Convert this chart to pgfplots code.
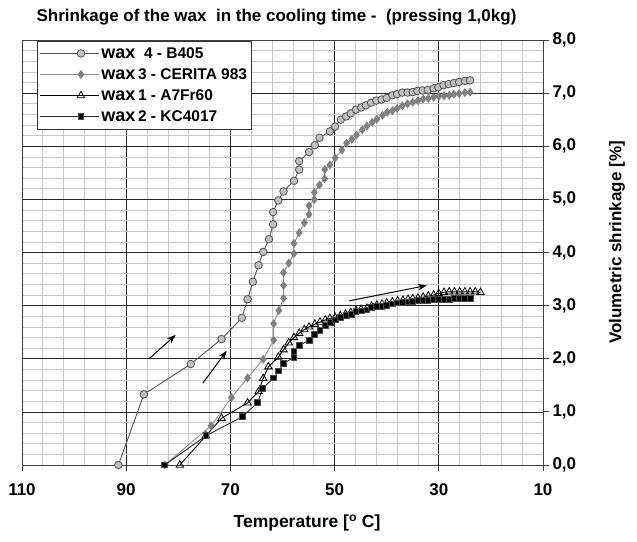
\documentclass[border=0pt]{standalone}
\usepackage{fontspec}
\setmainfont{Liberation Sans}
\usepackage{pgfplots}
\pgfplotsset{compat=1.18}
\usetikzlibrary{arrows.meta}
\definecolor{cfill}{HTML}{C0C0C0}
\definecolor{cedge}{HTML}{505050}
\definecolor{dfill}{HTML}{808080}
\definecolor{dline}{HTML}{8C8C8C}
\begin{document}
\begin{tikzpicture}
\begin{axis}[
  at={(0,0)}, anchor=south west,
  scale only axis, width=521pt, height=425pt,
  xmin=10, xmax=110, ymin=0, ymax=8,
  x dir=reverse,
  xtick={10,30,50,70,90,110},
  ytick={0,1,2,3,4,5,6,7,8},
  minor x tick num=4, minor y tick num=4,
  grid=both,
  major grid style={black!85, line width=0.6pt},
  minor grid style={black!22, line width=0.7pt},
  axis line style={black!75, line width=0.8pt},
  tick style={black!75, line width=0.8pt},
  tick align=outside,
  major tick length=6pt, minor tick length=0pt,
  xtick pos=left, ytick pos=right,
  yticklabel pos=right,
  /pgf/number format/assume math mode=true,
  tick label style={font=\fontsize{17}{17}\selectfont\bfseries},
  yticklabel style={/pgf/number format/.cd, fixed, fixed zerofill, precision=1, use comma},
  xticklabel style={yshift=-9pt},
  title={Shrinkage of the wax\ \ in the cooling time -\ \ (pressing 1,0kg)},
  title style={font=\fontsize{17}{18}\selectfont\bfseries, at={(0.5,1)}, anchor=center, yshift=17pt, xshift=-6pt},
  xlabel={Temperature [\textsuperscript{o} C]},
  xlabel style={font=\fontsize{17.5}{18}\selectfont\bfseries, at={(axis description cs:0.547,-0.1365)}, anchor=center},
  ylabel={Volumetric shrinkage [\%]},
  ylabel style={font=\fontsize{17}{18}\selectfont\bfseries, at={(axis description cs:1.142,0.5235)}, anchor=center},
  legend cell align=left,
  legend style={at={(0.029,0.998)}, anchor=north west, draw=black!80, line width=0.8pt,
    fill=white, font=\fontsize{15.5}{17}\selectfont\bfseries, row sep=4.8pt, inner xsep=2pt, inner ysep=4pt},
  legend image code/.code={%
    \path (0pt,0pt) -- (25pt,0pt);
    \draw[mark repeat=2,mark phase=2] plot coordinates {(25pt,0pt) (41pt,0pt) (57pt,0pt)};
    \path (57pt,0pt) -- (59pt,0pt);},
]
% wax 4 - B405
\addplot[color=cedge, line width=0.9pt, mark=*, mark size=3.8pt, mark options={fill=cfill, draw=cedge, line width=0.8pt}]
coordinates {
(91.5,0) (86.6,1.33) (77.6,1.90) (71.7,2.37) (67.8,2.77) (66.7,3.12) (65.7,3.45) (64.6,3.76)
(63.7,4.01) (62.6,4.25) (61.8,4.53) (61.8,4.76) (60.8,4.98) (59.8,5.15) (57.8,5.35) (56.8,5.56)
(56.8,5.72) (54.9,5.89) (53.8,6.02) (52.9,6.16) (50.9,6.28) (49.9,6.37) (48.8,6.50) (47.8,6.56)
(46.9,6.62) (45.9,6.69) (44.9,6.73) (44.0,6.77) (43.0,6.82) (42.0,6.86) (41.0,6.88) (40.0,6.91)
(38.9,6.96) (38.0,6.98) (37.0,7.01) (36.0,7.01) (35.0,7.02) (34.1,7.04) (33.1,7.05) (32.1,7.06)
(31.0,7.09) (30.1,7.11) (29.1,7.15) (28.1,7.17) (27.1,7.19) (26.1,7.21) (25.0,7.23) (24.0,7.24)
};
\addlegendentry{{\fontsize{18}{18}\selectfont wax}\ \ 4 - B405}
% wax 3 - CERITA 983
\addplot[color=dline, line width=0.9pt, mark=diamond*, mark size=3.8pt, mark options={fill=dfill, draw=dfill}]
coordinates {
(82.6,0) (73.7,0.74) (69.8,1.27) (66.7,1.64) (63.7,1.99) (61.7,2.35) (61.7,2.66) (60.7,2.91)
(59.8,3.14) (59.8,3.38) (59.8,3.62) (58.8,3.80) (57.8,3.98) (57.8,4.17) (56.8,4.37) (55.8,4.56)
(54.9,4.72) (54.9,4.88) (53.9,5.00) (53.9,5.13) (52.9,5.27) (51.9,5.39) (51.9,5.56) (50.9,5.65)
(49.9,5.78) (48.6,5.93) (47.7,6.06) (46.7,6.13) (45.8,6.21) (44.7,6.31) (43.8,6.38) (42.8,6.45)
(41.9,6.51) (40.8,6.58) (39.9,6.64) (38.9,6.67) (38.0,6.71) (37.0,6.76) (36.0,6.80) (35.0,6.83)
(34.0,6.86) (33.0,6.89) (32.0,6.90) (31.0,6.92) (30.0,6.94) (29.0,6.95) (28.0,6.96) (27.1,6.98)
(26.1,6.99) (25.0,7.01) (24.0,7.02)
};
\addlegendentry{{\fontsize{18}{18}\selectfont wax}\,3 - CERITA 983}
% wax 1 - A7Fr60
\addplot[color=black, line width=0.9pt, mark=triangle, mark size=4.3pt, mark options={fill=white, draw=black, line width=0.8pt}]
coordinates {
(79.7,0) (74.7,0.55) (71.7,0.88) (66.7,1.17) (64.6,1.38) (63.7,1.63) (62.7,1.85) (60.8,2.03)
(59.8,2.17) (58.8,2.30) (57.8,2.40) (56.8,2.48) (55.8,2.55) (54.9,2.60) (53.8,2.65) (52.8,2.69)
(51.8,2.73) (50.9,2.76) (49.9,2.78) (48.9,2.81) (47.9,2.84) (46.9,2.87) (45.9,2.91) (44.9,2.93)
(43.8,2.95) (42.9,2.99) (41.9,3.01) (40.9,3.03) (40.0,3.05) (38.9,3.07) (37.9,3.09) (36.9,3.10)
(35.9,3.12) (35.0,3.13) (34.0,3.14) (33.0,3.16) (32.0,3.18) (31.0,3.20) (30.0,3.23) (29.0,3.25)
(28.0,3.26) (27.0,3.26) (26.0,3.26) (25.0,3.26) (24.0,3.26) (23.0,3.26) (22.0,3.25)
};
\addlegendentry{{\fontsize{18}{18}\selectfont wax}\,1 - A7Fr60}
% wax 2 - KC4017
\addplot[color=black!85, line width=0.9pt, mark=square*, mark size=2.9pt, mark options={fill=black, draw=black!70}]
coordinates {
(82.6,0) (74.7,0.55) (67.7,0.91) (64.8,1.17) (63.8,1.44) (61.7,1.64) (60.7,1.77) (59.8,1.91)
(57.8,2.03) (57.8,2.13) (56.8,2.25) (54.9,2.35) (53.8,2.45) (52.8,2.54) (51.8,2.62) (50.8,2.69)
(49.8,2.73) (48.8,2.77) (47.8,2.81) (46.8,2.84) (45.9,2.89) (44.8,2.90) (43.8,2.92) (42.9,2.96)
(41.9,2.98) (40.9,2.99) (40.0,3.01) (38.9,3.03) (37.9,3.05) (36.9,3.06) (35.9,3.07) (35.0,3.08)
(34.0,3.09) (33.0,3.09) (32.1,3.10) (31.0,3.11) (30.0,3.11) (29.0,3.12) (28.0,3.12) (27.1,3.13)
(26.1,3.13) (25.0,3.13) (24.0,3.13)
};
\addlegendentry{{\fontsize{18}{18}\selectfont wax}\,2 - KC4017}
% arrows
\draw[-{Stealth[length=9pt,width=6.5pt]}, line width=1pt] (axis cs:85.6,2.00) -- (axis cs:80.5,2.45);
\draw[-{Stealth[length=9pt,width=6.5pt]}, line width=1pt] (axis cs:75.3,1.54) -- (axis cs:70.7,2.15);
\draw[-{Stealth[length=9pt,width=6.5pt]}, line width=1pt] (axis cs:47.2,3.09) -- (axis cs:32.3,3.38);
\end{axis}
\pgfresetboundingbox
\path[use as bounding box] (-22pt,-76pt) rectangle (615pt,465pt);
\end{tikzpicture}
\end{document}
